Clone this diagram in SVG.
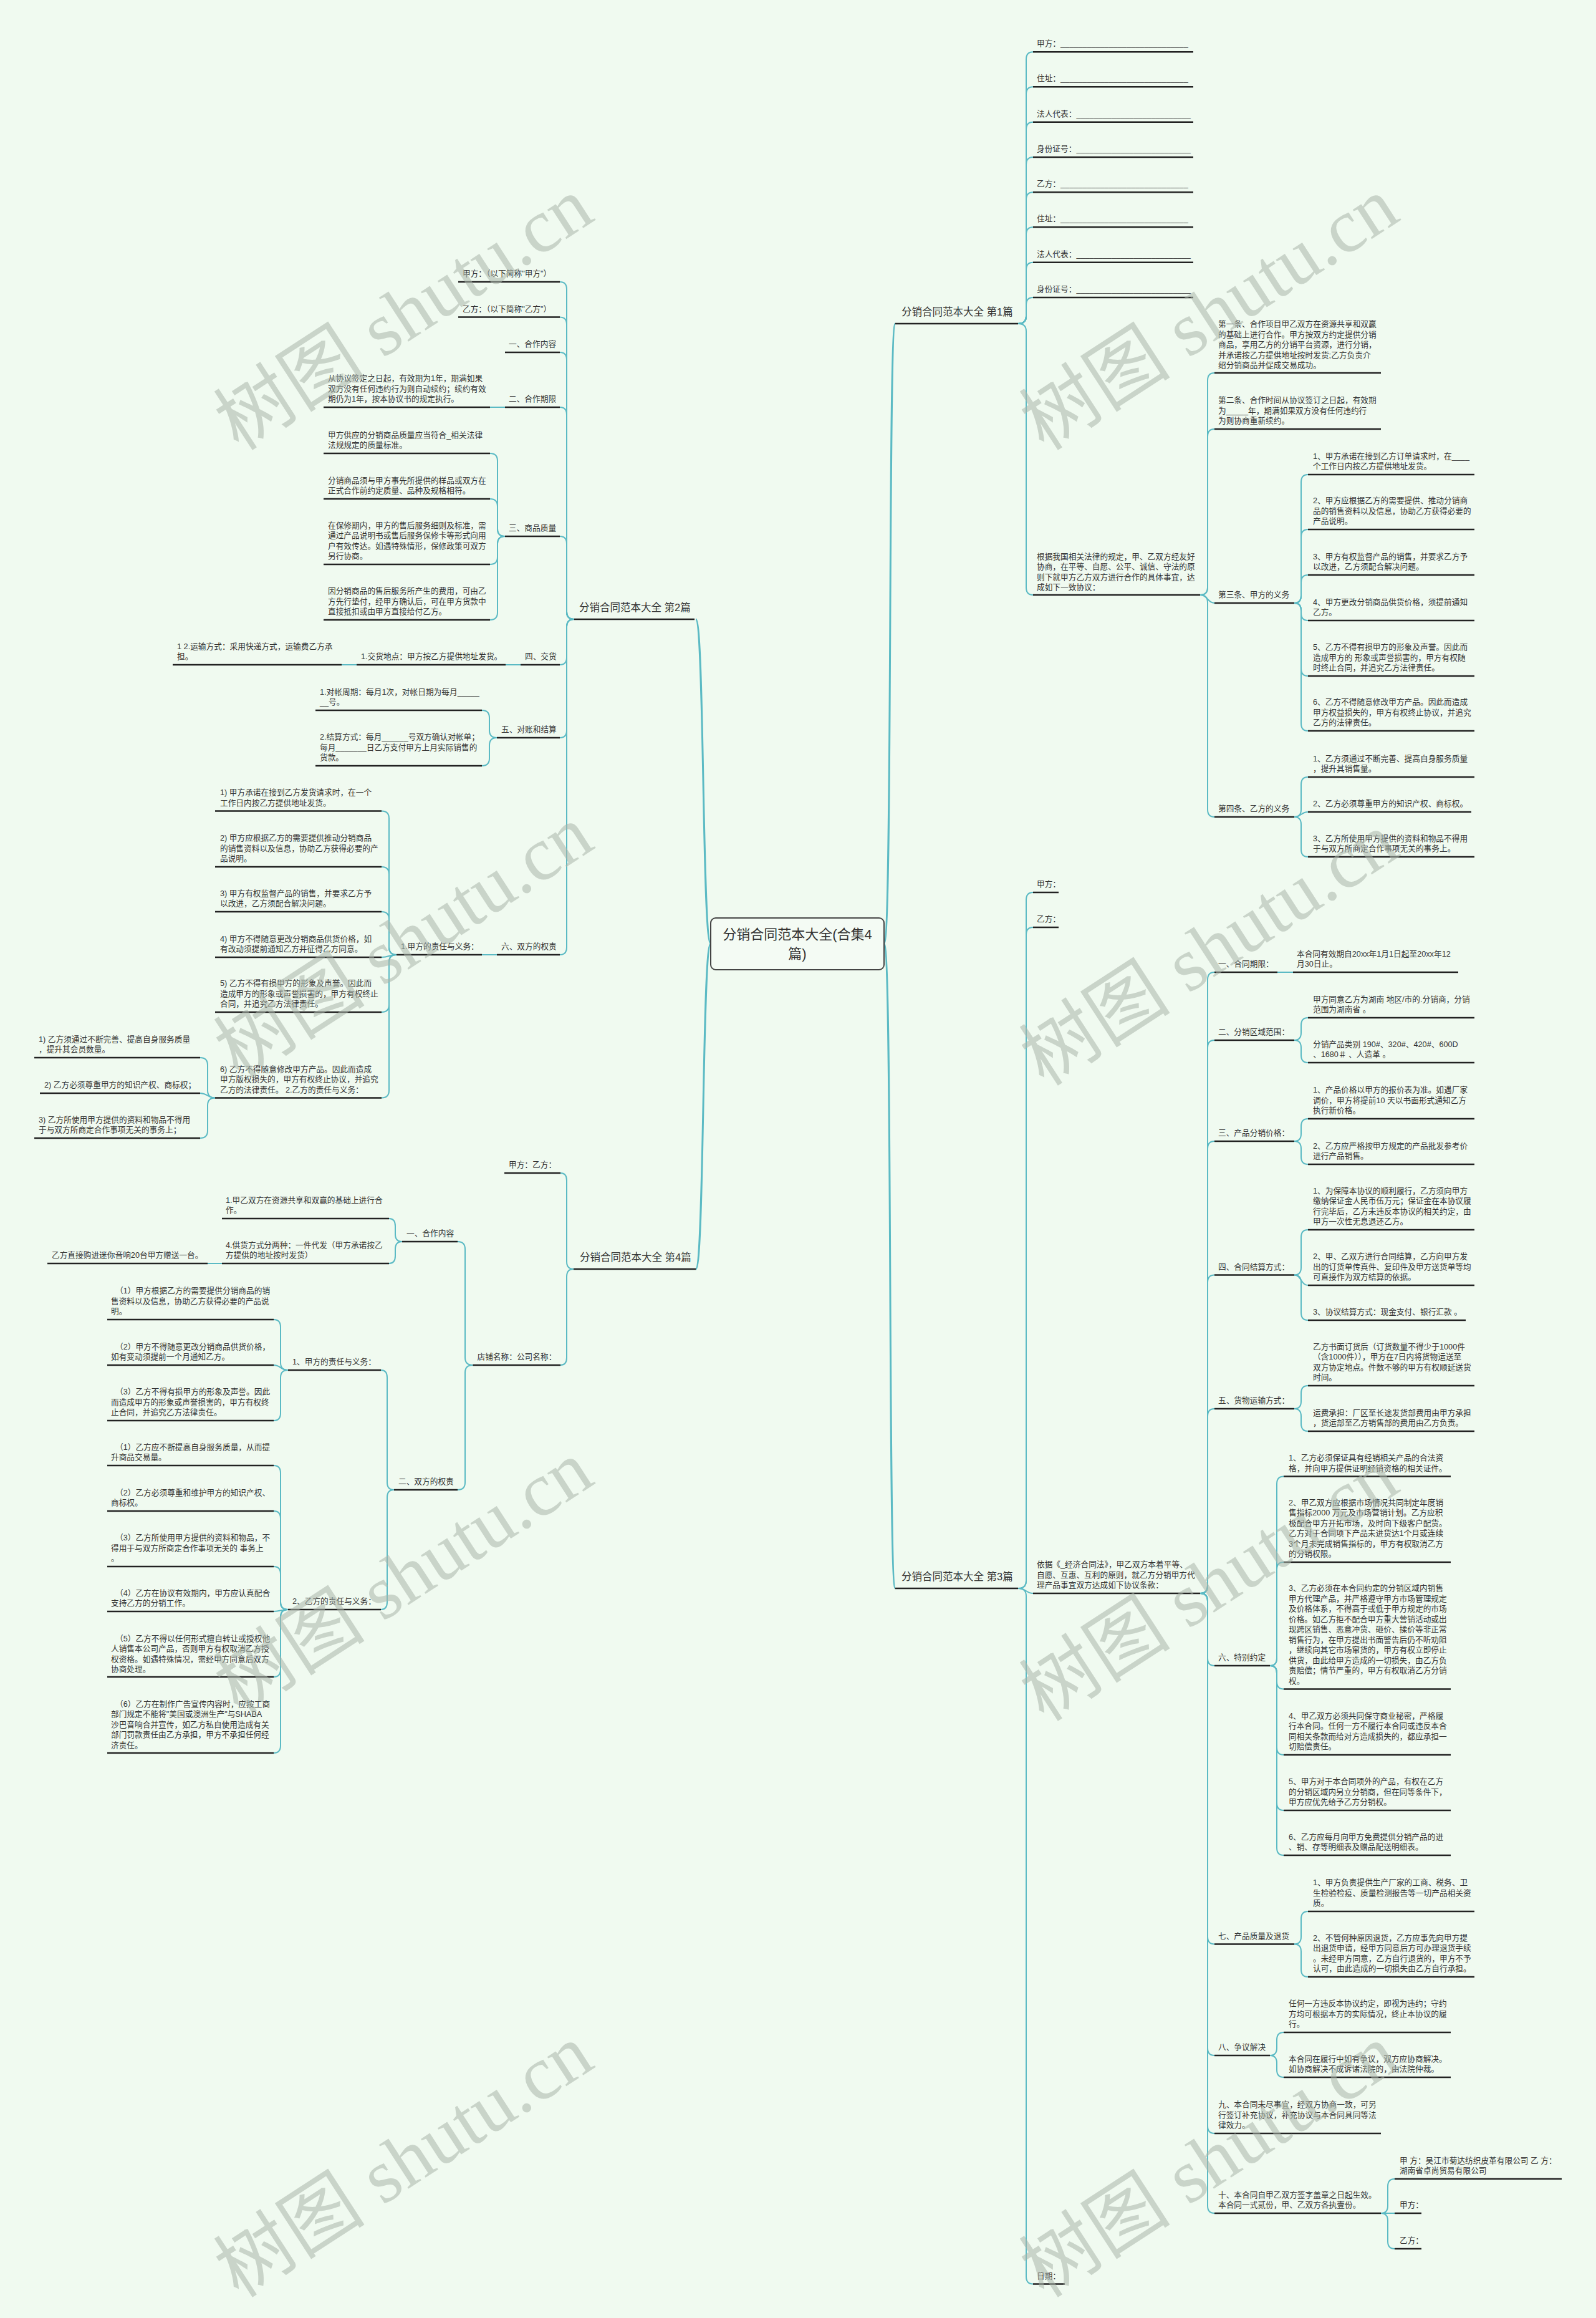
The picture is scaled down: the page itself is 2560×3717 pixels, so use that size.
<svg xmlns="http://www.w3.org/2000/svg" width="2560" height="3717" viewBox="0 0 2560 3717">
<style>
.t{font-family:"Liberation Sans","Noto Sans CJK SC",sans-serif;font-size:12.7px;fill:#333}
.b{font-family:"Liberation Sans","Noto Sans CJK SC",sans-serif;font-size:16.5px;fill:#333}
.c{font-family:"Liberation Sans","Noto Sans CJK SC",sans-serif;font-size:22px;fill:#333;text-anchor:middle}
.u{stroke:#222;stroke-width:2.5;fill:none}
.k path{fill:none;stroke:#5bbac4;stroke-width:2}
.k path.m{stroke-width:3}
.w{font-family:"Liberation Serif","Noto Sans CJK SC",serif;font-size:122px;fill:#aab4aa;fill-opacity:.55;text-anchor:middle}
</style>
<rect width="2560" height="3717" fill="#f0faf0"/>
<g id="connectors" class="k">
<path class="m" d="M1418,1513 C1432,1513 1424,519 1436,519"/>
<path class="m" d="M1418,1513 C1432,1513 1424,2547 1436,2547"/>
<path class="m" d="M1140,1513 C1126,1513 1130,993 1116,993"/>
<path class="m" d="M1140,1513 C1126,1513 1130,2035 1116,2035"/>
<path d="M921,993 Q909,993 909,981 L909,464 Q909,452 898,452"/>
<path d="M921,993 Q909,993 909,981 L909,520.5 Q909,508.5 898,508.5"/>
<path d="M921,993 Q909,993 909,981 L909,577 Q909,565 898,565"/>
<path d="M921,993 Q909,993 909,981 L909,665 Q909,653 898,653"/>
<path d="M921,993 Q909,993 909,981 L909,872 Q909,860 898,860"/>
<path d="M921,993 Q909,993 909,1005 L909,1054 Q909,1066 898,1066"/>
<path d="M921,993 Q909,993 909,1005 L909,1171 Q909,1183 898,1183"/>
<path d="M921,993 Q909,993 909,1005 L909,1519 Q909,1531 898,1531"/>
<path d="M810,653 L786,653"/>
<path d="M810,860 Q798,860 798,848 L798,739 Q798,727 786,727"/>
<path d="M810,860 Q798,860 798,848 L798,812 Q798,800 786,800"/>
<path d="M810,860 Q798,860 798,872 L798,893 Q798,905 786,905"/>
<path d="M810,860 Q798,860 798,872 L798,982 Q798,994 786,994"/>
<path d="M835,1066 L811,1066"/>
<path d="M572,1066 L548,1066"/>
<path d="M797,1183 Q785,1183 785,1171 L785,1151 Q785,1139 773,1139"/>
<path d="M797,1183 Q785,1183 785,1195 L785,1216 Q785,1228 773,1228"/>
<path d="M797,1531 L773,1531"/>
<path d="M636,1531 Q624,1531 624,1519 L624,1312.5 Q624,1300.5 612,1300.5"/>
<path d="M636,1531 Q624,1531 624,1519 L624,1402 Q624,1390 612,1390"/>
<path d="M636,1531 Q624,1531 624,1519 L624,1474 Q624,1462 612,1462"/>
<path d="M636,1531 C624,1531 624,1535 612,1535"/>
<path d="M636,1531 Q624,1531 624,1543 L624,1611 Q624,1623 612,1623"/>
<path d="M636,1531 Q624,1531 624,1543 L624,1748.5 Q624,1760.5 612,1760.5"/>
<path d="M345,1760.5 Q333,1760.5 333,1748.5 L333,1708 Q333,1696 321,1696"/>
<path d="M345,1760.5 C333,1760.5 333,1753 321,1753"/>
<path d="M345,1760.5 Q333,1760.5 333,1772.5 L333,1813 Q333,1825 321,1825"/>
<path d="M920,2035 Q909,2035 909,2023 L909,1893 Q909,1881 899,1881"/>
<path d="M920,2035 Q909,2035 909,2047 L909,2177 Q909,2189 899,2189"/>
<path d="M758.5,2189 Q746,2189 746,2177 L746,2003 Q746,1991 734,1991"/>
<path d="M758.5,2189 Q746,2189 746,2201 L746,2377 Q746,2389 734,2389"/>
<path d="M645,1991 Q634,1991 634,1979 L634,1966 Q634,1954 624,1954"/>
<path d="M645,1991 Q634,1991 634,2003 L634,2014 Q634,2026 624,2026"/>
<path d="M356,2026 L333,2026"/>
<path d="M632,2389 Q621,2389 621,2377 L621,2209 Q621,2197 611,2197"/>
<path d="M632,2389 Q621,2389 621,2401 L621,2569 Q621,2581 611,2581"/>
<path d="M462,2197 Q450,2197 450,2185 L450,2128 Q450,2116 439,2116"/>
<path d="M462,2197 C450,2197 450,2189 439,2189"/>
<path d="M462,2197 Q450,2197 450,2209 L450,2266 Q450,2278 439,2278"/>
<path d="M462,2581 Q450,2581 450,2569 L450,2362 Q450,2350 439,2350"/>
<path d="M462,2581 Q450,2581 450,2569 L450,2435 Q450,2423 439,2423"/>
<path d="M462,2581 Q450,2581 450,2569 L450,2524 Q450,2512 439,2512"/>
<path d="M462,2581 C450,2581 450,2584 439,2584"/>
<path d="M462,2581 Q450,2581 450,2593 L450,2677 Q450,2689 439,2689"/>
<path d="M462,2581 Q450,2581 450,2593 L450,2799 Q450,2811 439,2811"/>
<path d="M1633,519 Q1646,519 1646,507 L1646,95.3 Q1646,83.3 1657,83.3"/>
<path d="M1633,519 Q1646,519 1646,507 L1646,151.3 Q1646,139.3 1657,139.3"/>
<path d="M1633,519 Q1646,519 1646,507 L1646,207.7 Q1646,195.7 1657,195.7"/>
<path d="M1633,519 Q1646,519 1646,507 L1646,264 Q1646,252 1657,252"/>
<path d="M1633,519 Q1646,519 1646,507 L1646,320.3 Q1646,308.3 1657,308.3"/>
<path d="M1633,519 Q1646,519 1646,507 L1646,376.3 Q1646,364.3 1657,364.3"/>
<path d="M1633,519 Q1646,519 1646,507 L1646,432.7 Q1646,420.7 1657,420.7"/>
<path d="M1633,519 Q1646,519 1646,507 L1646,489 Q1646,477 1657,477"/>
<path d="M1633,519 Q1646,519 1646,531 L1646,942 Q1646,954 1657,954"/>
<path d="M1925,954 Q1937,954 1937,942 L1937,610 Q1937,598 1948,598"/>
<path d="M1925,954 Q1937,954 1937,942 L1937,700 Q1937,688 1948,688"/>
<path d="M1925,954 C1937,954 1937,967 1948,967"/>
<path d="M1925,954 Q1937,954 1937,966 L1937,1298 Q1937,1310 1948,1310"/>
<path d="M2076,967 Q2087,967 2087,955 L2087,773 Q2087,761 2098,761"/>
<path d="M2076,967 Q2087,967 2087,955 L2087,861 Q2087,849 2098,849"/>
<path d="M2076,967 Q2087,967 2087,955 L2087,934 Q2087,922 2098,922"/>
<path d="M2076,967 Q2087,967 2087,979 L2087,983 Q2087,995 2098,995"/>
<path d="M2076,967 Q2087,967 2087,979 L2087,1072 Q2087,1084 2098,1084"/>
<path d="M2076,967 Q2087,967 2087,979 L2087,1160 Q2087,1172 2098,1172"/>
<path d="M2076,1310 Q2087,1310 2087,1298 L2087,1258 Q2087,1246 2098,1246"/>
<path d="M2076,1310 C2087,1310 2087,1302 2098,1302"/>
<path d="M2076,1310 Q2087,1310 2087,1322 L2087,1362 Q2087,1374 2098,1374"/>
<path d="M1633,2547 Q1646,2547 1646,2535 L1646,1443 Q1646,1431 1657,1431"/>
<path d="M1633,2547 Q1646,2547 1646,2535 L1646,1499 Q1646,1487 1657,1487"/>
<path d="M1633,2547 C1646,2547 1646,2555 1657,2555"/>
<path d="M1633,2547 Q1646,2547 1646,2559 L1646,3650.5 Q1646,3662.5 1657,3662.5"/>
<path d="M1925,2555 Q1937,2555 1937,2543 L1937,1571 Q1937,1559 1948,1559"/>
<path d="M1925,2555 Q1937,2555 1937,2543 L1937,1680 Q1937,1668 1948,1668"/>
<path d="M1925,2555 Q1937,2555 1937,2543 L1937,1842 Q1937,1830 1948,1830"/>
<path d="M1925,2555 Q1937,2555 1937,2543 L1937,2056.5 Q1937,2044.5 1948,2044.5"/>
<path d="M1925,2555 Q1937,2555 1937,2543 L1937,2271 Q1937,2259 1948,2259"/>
<path d="M1925,2555 Q1937,2555 1937,2567 L1937,2659 Q1937,2671 1948,2671"/>
<path d="M1925,2555 Q1937,2555 1937,2567 L1937,3105.5 Q1937,3117.5 1948,3117.5"/>
<path d="M1925,2555 Q1937,2555 1937,2567 L1937,3284 Q1937,3296 1948,3296"/>
<path d="M1925,2555 Q1937,2555 1937,2567 L1937,3409 Q1937,3421 1948,3421"/>
<path d="M1925,2555 Q1937,2555 1937,2567 L1937,3537 Q1937,3549 1948,3549"/>
<path d="M2049,1559 L2074,1559"/>
<path d="M2076,1668 Q2087,1668 2087,1656 L2087,1644 Q2087,1632 2098,1632"/>
<path d="M2076,1668 Q2087,1668 2087,1680 L2087,1692 Q2087,1704 2098,1704"/>
<path d="M2076,1830 Q2087,1830 2087,1818 L2087,1806 Q2087,1794 2098,1794"/>
<path d="M2076,1830 Q2087,1830 2087,1842 L2087,1855 Q2087,1867 2098,1867"/>
<path d="M2076,2044.5 Q2087,2044.5 2087,2032.5 L2087,1984 Q2087,1972 2098,1972"/>
<path d="M2076,2044.5 C2087,2044.5 2087,2061 2098,2061"/>
<path d="M2076,2044.5 Q2087,2044.5 2087,2056.5 L2087,2105 Q2087,2117 2098,2117"/>
<path d="M2076,2259 Q2087,2259 2087,2247 L2087,2234 Q2087,2222 2098,2222"/>
<path d="M2076,2259 Q2087,2259 2087,2271 L2087,2283 Q2087,2295 2098,2295"/>
<path d="M2037,2671 Q2048,2671 2048,2659 L2048,2379.5 Q2048,2367.5 2059,2367.5"/>
<path d="M2037,2671 Q2048,2671 2048,2659 L2048,2517 Q2048,2505 2059,2505"/>
<path d="M2037,2671 Q2048,2671 2048,2683 L2048,2696.5 Q2048,2708.5 2059,2708.5"/>
<path d="M2037,2671 Q2048,2671 2048,2683 L2048,2802 Q2048,2814 2059,2814"/>
<path d="M2037,2671 Q2048,2671 2048,2683 L2048,2891 Q2048,2903 2059,2903"/>
<path d="M2037,2671 Q2048,2671 2048,2683 L2048,2963 Q2048,2975 2059,2975"/>
<path d="M2076,3117.5 Q2087,3117.5 2087,3105.5 L2087,3077 Q2087,3065 2098,3065"/>
<path d="M2076,3117.5 Q2087,3117.5 2087,3129.5 L2087,3158 Q2087,3170 2098,3170"/>
<path d="M2037,3296 Q2048,3296 2048,3284 L2048,3271 Q2048,3259 2059,3259"/>
<path d="M2037,3296 Q2048,3296 2048,3308 L2048,3319 Q2048,3331 2059,3331"/>
<path d="M2215,3549 Q2226,3549 2226,3537 L2226,3506 Q2226,3494 2237,3494"/>
<path d="M2215,3549 L2237,3549"/>
<path d="M2215,3549 Q2226,3549 2226,3561 L2226,3594 Q2226,3606 2237,3606"/>
</g>
<g id="center"><rect x="1140" y="1472" width="278" height="83" rx="8" fill="#f4fbf4" stroke="#444" stroke-width="2"/><text class="c"><tspan x="1279" y="1506">分销合同范本大全(合集4</tspan><tspan x="1279" y="1537">篇)</tspan></text></g>
<g id="b1"><path class="u" d="M1436 519H1633"/><text class="b" x="1446" y="506">分销合同范本大全 第1篇</text></g>
<g id="b2"><path class="u" d="M921 993H1114"/><text class="b" x="929" y="980">分销合同范本大全 第2篇</text></g>
<g id="b3"><path class="u" d="M1436 2547H1633"/><text class="b" x="1446" y="2534">分销合同范本大全 第3篇</text></g>
<g id="b4"><path class="u" d="M920 2035H1116"/><text class="b" x="930" y="2022">分销合同范本大全 第4篇</text></g>
<g id="n2_1"><path class="u" d="M735 452H898"/><text class="t" x="742" y="443">甲方：（以下简称"甲方"）</text></g>
<g id="n2_2"><path class="u" d="M735 508.5H898"/><text class="t" x="742" y="499.5">乙方：（以下简称"乙方"）</text></g>
<g id="n2_3"><path class="u" d="M810 565H898"/><text class="t" x="816" y="556">一、合作内容</text></g>
<g id="n2_4"><path class="u" d="M810 653H898"/><text class="t" x="816" y="644">二、合作期限</text></g>
<g id="n2_4_1"><path class="u" d="M519 653H786"/><text class="t"><tspan x="526" y="611">从协议签定之日起，有效期为1年，期满如果</tspan><tspan x="526" y="627.5">双方没有任何违约行为则自动续约；续约有效</tspan><tspan x="526" y="644">期仍为1年，按本协议书的规定执行。</tspan></text></g>
<g id="n2_5"><path class="u" d="M810 860H898"/><text class="t" x="816" y="851">三、商品质量</text></g>
<g id="n2_5_1"><path class="u" d="M519 727H786"/><text class="t"><tspan x="526" y="701.5">甲方供应的分销商品质量应当符合_相关法律</tspan><tspan x="526" y="718">法规规定的质量标准。</tspan></text></g>
<g id="n2_5_2"><path class="u" d="M519 800H786"/><text class="t"><tspan x="526" y="774.5">分销商品须与甲方事先所提供的样品或双方在</tspan><tspan x="526" y="791">正式合作前约定质量、品种及规格相符。</tspan></text></g>
<g id="n2_5_3"><path class="u" d="M519 905H786"/><text class="t"><tspan x="526" y="846.5">在保修期内，甲方的售后服务细则及标准，需</tspan><tspan x="526" y="863">通过产品说明书或售后服务保修卡等形式向用</tspan><tspan x="526" y="879.5">户有效传达。如遇特殊情形，保修政策可双方</tspan><tspan x="526" y="896">另行协商。</tspan></text></g>
<g id="n2_5_4"><path class="u" d="M519 994H786"/><text class="t"><tspan x="526" y="952">因分销商品的售后服务所产生的费用，可由乙</tspan><tspan x="526" y="968.5">方先行垫付，经甲方确认后，可在甲方货款中</tspan><tspan x="526" y="985">直接抵扣或由甲方直接给付乙方。</tspan></text></g>
<g id="n2_6"><path class="u" d="M835 1066H898"/><text class="t" x="842" y="1057">四、交货</text></g>
<g id="n2_6_1"><path class="u" d="M572 1066H811"/><text class="t" x="579" y="1057">1.交货地点：甲方按乙方提供地址发货。</text></g>
<g id="n2_6_1_1"><path class="u" d="M277 1066H548"/><text class="t"><tspan x="284" y="1040.5">1 2.运输方式：采用快递方式，运输费乙方承</tspan><tspan x="284" y="1057">担。</tspan></text></g>
<g id="n2_7"><path class="u" d="M797 1183H898"/><text class="t" x="804" y="1174">五、对账和结算</text></g>
<g id="n2_7_1"><path class="u" d="M506 1139H773"/><text class="t"><tspan x="513" y="1114">1.对帐周期：每月1次，对帐日期为每月_____</tspan><tspan x="513" y="1130">__号。</tspan></text></g>
<g id="n2_7_2"><path class="u" d="M506 1228H773"/><text class="t"><tspan x="513" y="1186">2.结算方式：每月______号双方确认对帐单；</tspan><tspan x="513" y="1202.5">每月_______日乙方支付甲方上月实际销售的</tspan><tspan x="513" y="1219">货款。</tspan></text></g>
<g id="n2_8"><path class="u" d="M797 1531H898"/><text class="t" x="804" y="1522">六、双方的权责</text></g>
<g id="n2_8_1"><path class="u" d="M636 1531H773"/><text class="t" x="643" y="1522">1.甲方的责任与义务：</text></g>
<g id="n2_8_1_1"><path class="u" d="M345 1300.5H612"/><text class="t"><tspan x="353" y="1275">1) 甲方承诺在接到乙方发货请求时，在一个</tspan><tspan x="353" y="1291.5">工作日内按乙方提供地址发货。</tspan></text></g>
<g id="n2_8_1_2"><path class="u" d="M345 1390H612"/><text class="t"><tspan x="353" y="1348">2) 甲方应根据乙方的需要提供推动分销商品</tspan><tspan x="353" y="1364.5">的销售资料以及信息，协助乙方获得必要的产</tspan><tspan x="353" y="1381">品说明。</tspan></text></g>
<g id="n2_8_1_3"><path class="u" d="M345 1462H612"/><text class="t"><tspan x="353" y="1436.5">3) 甲方有权监督产品的销售，并要求乙方予</tspan><tspan x="353" y="1453">以改进，乙方须配合解决问题。</tspan></text></g>
<g id="n2_8_1_4"><path class="u" d="M345 1535H612"/><text class="t"><tspan x="353" y="1509.5">4) 甲方不得随意更改分销商品供货价格，如</tspan><tspan x="353" y="1526">有改动须提前通知乙方并征得乙方同意。</tspan></text></g>
<g id="n2_8_1_5"><path class="u" d="M345 1623H612"/><text class="t"><tspan x="353" y="1581">5) 乙方不得有损甲方的形象及声誉。因此而</tspan><tspan x="353" y="1597.5">造成甲方的形象或声誉损害的，甲方有权终止</tspan><tspan x="353" y="1614">合同，并追究乙方法律责任。</tspan></text></g>
<g id="n2_8_1_6"><path class="u" d="M345 1760.5H612"/><text class="t"><tspan x="353" y="1718.5">6) 乙方不得随意修改甲方产品。因此而造成</tspan><tspan x="353" y="1735">甲方版权损失的，甲方有权终止协议，并追究</tspan><tspan x="353" y="1751.5">乙方的法律责任。 2.乙方的责任与义务：</tspan></text></g>
<g id="n2_8_1_6_1"><path class="u" d="M55 1696H321"/><text class="t"><tspan x="62" y="1670.5">1) 乙方须通过不断完善、提高自身服务质量</tspan><tspan x="62" y="1687">，提升其会员数量。</tspan></text></g>
<g id="n2_8_1_6_2"><path class="u" d="M64 1753H321"/><text class="t" x="71" y="1744">2) 乙方必须尊重甲方的知识产权、商标权；</text></g>
<g id="n2_8_1_6_3"><path class="u" d="M55 1825H321"/><text class="t"><tspan x="62" y="1799.5">3) 乙方所使用甲方提供的资料和物品不得用</tspan><tspan x="62" y="1816">于与双方所商定合作事项无关的事务上；</tspan></text></g>
<g id="n4_1"><path class="u" d="M809 1881H899"/><text class="t" x="816" y="1872">甲方：乙方：</text></g>
<g id="n4_2"><path class="u" d="M758.5 2189H899"/><text class="t" x="765.5" y="2180">店铺名称：公司名称：</text></g>
<g id="n4_2_1"><path class="u" d="M645 1991H734"/><text class="t" x="652" y="1982">一、合作内容</text></g>
<g id="n4_2_1_1"><path class="u" d="M356 1954H624"/><text class="t"><tspan x="362" y="1928.5">1.甲乙双方在资源共享和双赢的基础上进行合</tspan><tspan x="362" y="1945">作。</tspan></text></g>
<g id="n4_2_1_2"><path class="u" d="M356 2026H624"/><text class="t"><tspan x="362" y="2000.5">4.供货方式分两种：一件代发（甲方承诺按乙</tspan><tspan x="362" y="2017">方提供的地址按时发货）</tspan></text></g>
<g id="n4_2_1_2_1"><path class="u" d="M76 2026H333"/><text class="t" x="83" y="2017">乙方直接购进迷你音响20台甲方赠送一台。</text></g>
<g id="n4_2_2"><path class="u" d="M632 2389H734"/><text class="t" x="639" y="2380">二、双方的权责</text></g>
<g id="n4_2_2_1"><path class="u" d="M462 2197H611"/><text class="t" x="469" y="2188">1、甲方的责任与义务：</text></g>
<g id="n4_a1"><path class="u" d="M172 2116H439"/><text class="t"><tspan x="185" y="2074">（1）甲方根据乙方的需要提供分销商品的销</tspan><tspan x="178" y="2090.5">售资料以及信息，协助乙方获得必要的产品说</tspan><tspan x="178" y="2107">明。</tspan></text></g>
<g id="n4_a2"><path class="u" d="M172 2189H439"/><text class="t"><tspan x="185" y="2163.5">（2）甲方不得随意更改分销商品供货价格，</tspan><tspan x="178" y="2180">如有变动须提前一个月通知乙方。</tspan></text></g>
<g id="n4_a3"><path class="u" d="M172 2278H439"/><text class="t"><tspan x="185" y="2236">（3）乙方不得有损甲方的形象及声誉。因此</tspan><tspan x="178" y="2252.5">而造成甲方的形象或声誉损害的，甲方有权终</tspan><tspan x="178" y="2269">止合同，并追究乙方法律责任。</tspan></text></g>
<g id="n4_2_2_2"><path class="u" d="M462 2581H611"/><text class="t" x="469" y="2572">2、乙方的责任与义务：</text></g>
<g id="n4_b1"><path class="u" d="M172 2350H439"/><text class="t"><tspan x="185" y="2324.5">（1）乙方应不断提高自身服务质量，从而提</tspan><tspan x="178" y="2341">升商品交易量。</tspan></text></g>
<g id="n4_b2"><path class="u" d="M172 2423H439"/><text class="t"><tspan x="185" y="2397.5">（2）乙方必须尊重和维护甲方的知识产权、</tspan><tspan x="178" y="2414">商标权。</tspan></text></g>
<g id="n4_b3"><path class="u" d="M172 2512H439"/><text class="t"><tspan x="185" y="2470">（3）乙方所使用甲方提供的资料和物品，不</tspan><tspan x="178" y="2486.5">得用于与双方所商定合作事项无关的 事务上</tspan><tspan x="178" y="2503">。</tspan></text></g>
<g id="n4_b4"><path class="u" d="M172 2584H439"/><text class="t"><tspan x="185" y="2558.5">（4）乙方在协议有效期内，甲方应认真配合</tspan><tspan x="178" y="2575">支持乙方的分销工作。</tspan></text></g>
<g id="n4_b5"><path class="u" d="M172 2689H439"/><text class="t"><tspan x="185" y="2631.5">（5）乙方不得以任何形式擅自转让或授权他</tspan><tspan x="178" y="2648">人销售本公司产品，否则甲方有权取消乙方授</tspan><tspan x="178" y="2664.5">权资格。如遇特殊情况，需经甲方同意后双方</tspan><tspan x="178" y="2681">协商处理。</tspan></text></g>
<g id="n4_b6"><path class="u" d="M172 2811H439"/><text class="t"><tspan x="185" y="2736.5">（6）乙方在制作广告宣传内容时，应按工商</tspan><tspan x="178" y="2753">部门规定不能将"美国或澳洲生产"与SHABA</tspan><tspan x="178" y="2769.5">沙巴音响合并宣传，如乙方私自使用造成有关</tspan><tspan x="178" y="2786">部门罚款责任由乙方承担，甲方不承担任何经</tspan><tspan x="178" y="2802.5">济责任。</tspan></text></g>
<g id="n1_1"><path class="u" d="M1657 83.3H1914"/><text class="t" x="1663" y="74.3">甲方：_____________________________</text></g>
<g id="n1_2"><path class="u" d="M1657 139.3H1914"/><text class="t" x="1663" y="130.3">住址：_____________________________</text></g>
<g id="n1_3"><path class="u" d="M1657 195.7H1914"/><text class="t" x="1663" y="186.7">法人代表：__________________________</text></g>
<g id="n1_4"><path class="u" d="M1657 252H1914"/><text class="t" x="1663" y="243">身份证号：__________________________</text></g>
<g id="n1_5"><path class="u" d="M1657 308.3H1914"/><text class="t" x="1663" y="299.3">乙方：_____________________________</text></g>
<g id="n1_6"><path class="u" d="M1657 364.3H1914"/><text class="t" x="1663" y="355.3">住址：_____________________________</text></g>
<g id="n1_7"><path class="u" d="M1657 420.7H1914"/><text class="t" x="1663" y="411.7">法人代表：__________________________</text></g>
<g id="n1_8"><path class="u" d="M1657 477H1914"/><text class="t" x="1663" y="468">身份证号：__________________________</text></g>
<g id="n1_9"><path class="u" d="M1657 954H1925"/><text class="t"><tspan x="1663" y="896.5">根据我国相关法律的规定，甲、乙双方经友好</tspan><tspan x="1663" y="913">协商，在平等、自愿、公平、诚信、守法的原</tspan><tspan x="1663" y="929.5">则下就甲方乙方双方进行合作的具体事宜，达</tspan><tspan x="1663" y="946">成如下一致协议：</tspan></text></g>
<g id="n1_9_1"><path class="u" d="M1948 598H2215"/><text class="t"><tspan x="1954" y="524">第一条、合作项目甲乙双方在资源共享和双赢</tspan><tspan x="1954" y="540.5">的基础上进行合作。甲方按双方约定提供分销</tspan><tspan x="1954" y="557">商品，享用乙方的分销平台资源，进行分销，</tspan><tspan x="1954" y="573.5">并承诺按乙方提供地址按时发货;乙方负责介</tspan><tspan x="1954" y="590">绍分销商品并促成交易成功。</tspan></text></g>
<g id="n1_9_2"><path class="u" d="M1948 688H2215"/><text class="t"><tspan x="1954" y="646">第二条、合作时间从协议签订之日起，有效期</tspan><tspan x="1954" y="662.5">为_____年，期满如果双方没有任何违约行</tspan><tspan x="1954" y="679">为则协商重新续约。</tspan></text></g>
<g id="n1_9_3"><path class="u" d="M1948 967H2076"/><text class="t" x="1954" y="958">第三条、甲方的义务</text></g>
<g id="n1_9_3_1"><path class="u" d="M2098 761H2365"/><text class="t"><tspan x="2106" y="735.5">1、甲方承诺在接到乙方订单请求时，在____</tspan><tspan x="2106" y="752">个工作日内按乙方提供地址发货。</tspan></text></g>
<g id="n1_9_3_2"><path class="u" d="M2098 849H2365"/><text class="t"><tspan x="2106" y="807">2、甲方应根据乙方的需要提供、推动分销商</tspan><tspan x="2106" y="823.5">品的销售资料以及信息，协助乙方获得必要的</tspan><tspan x="2106" y="840">产品说明。</tspan></text></g>
<g id="n1_9_3_3"><path class="u" d="M2098 922H2365"/><text class="t"><tspan x="2106" y="896.5">3、甲方有权监督产品的销售，并要求乙方予</tspan><tspan x="2106" y="913">以改进，乙方须配合解决问题。</tspan></text></g>
<g id="n1_9_3_4"><path class="u" d="M2098 995H2365"/><text class="t"><tspan x="2106" y="969.5">4、甲方更改分销商品供货价格，须提前通知</tspan><tspan x="2106" y="986">乙方。</tspan></text></g>
<g id="n1_9_3_5"><path class="u" d="M2098 1084H2365"/><text class="t"><tspan x="2106" y="1042">5、乙方不得有损甲方的形象及声誉。因此而</tspan><tspan x="2106" y="1058.5">造成甲方的 形象或声誉损害的，甲方有权随</tspan><tspan x="2106" y="1075">时终止合同，并追究乙方法律责任。</tspan></text></g>
<g id="n1_9_3_6"><path class="u" d="M2098 1172H2365"/><text class="t"><tspan x="2106" y="1130">6、乙方不得随意修改甲方产品。因此而造成</tspan><tspan x="2106" y="1146.5">甲方权益损失的，甲方有权终止协议，并追究</tspan><tspan x="2106" y="1163">乙方的法律责任。</tspan></text></g>
<g id="n1_9_4"><path class="u" d="M1948 1310H2076"/><text class="t" x="1954" y="1301">第四条、乙方的义务</text></g>
<g id="n1_9_4_1"><path class="u" d="M2098 1246H2365"/><text class="t"><tspan x="2106" y="1220.5">1、乙方须通过不断完善、提高自身服务质量</tspan><tspan x="2106" y="1237">，提升其销售量。</tspan></text></g>
<g id="n1_9_4_2"><path class="u" d="M2098 1302H2360"/><text class="t" x="2106" y="1293">2、乙方必须尊重甲方的知识产权、商标权。</text></g>
<g id="n1_9_4_3"><path class="u" d="M2098 1374H2365"/><text class="t"><tspan x="2106" y="1348.5">3、乙方所使用甲方提供的资料和物品不得用</tspan><tspan x="2106" y="1365">于与双方所商定合作事项无关的事务上。</tspan></text></g>
<g id="n3_1"><path class="u" d="M1657 1431H1698"/><text class="t" x="1663" y="1422">甲方：</text></g>
<g id="n3_2"><path class="u" d="M1657 1487H1698"/><text class="t" x="1663" y="1478">乙方：</text></g>
<g id="n3_3"><path class="u" d="M1657 2555H1925"/><text class="t"><tspan x="1663" y="2513">依据《_经济合同法》，甲乙双方本着平等、</tspan><tspan x="1663" y="2529.5">自愿、互惠、互利的原则，就乙方分销甲方代</tspan><tspan x="1663" y="2546">理产品事宜双方达成如下协议条款：</tspan></text></g>
<g id="n3_4"><path class="u" d="M1657 3662.5H1708"/><text class="t" x="1663" y="3653.5">日期：</text></g>
<g id="n3_3_1"><path class="u" d="M1948 1559H2049"/><text class="t" x="1954" y="1550">一、合同期限：</text></g>
<g id="n3_3_1_1"><path class="u" d="M2074 1559H2339"/><text class="t"><tspan x="2080" y="1533.5">本合同有效期自20xx年1月1日起至20xx年12</tspan><tspan x="2080" y="1550">月30日止。</tspan></text></g>
<g id="n3_3_2"><path class="u" d="M1948 1668H2076"/><text class="t" x="1954" y="1659">二、分销区域范围：</text></g>
<g id="n3_3_2_1"><path class="u" d="M2098 1632H2365"/><text class="t"><tspan x="2106" y="1606.5">甲方同意乙方为湖南 地区/市的.分销商，分销</tspan><tspan x="2106" y="1623">范围为湖南省 。</tspan></text></g>
<g id="n3_3_2_2"><path class="u" d="M2098 1704H2365"/><text class="t"><tspan x="2106" y="1678.5">分销产品类别 190#、320#、420#、600D</tspan><tspan x="2106" y="1695">、1680＃ 、人造革 。</tspan></text></g>
<g id="n3_3_3"><path class="u" d="M1948 1830H2076"/><text class="t" x="1954" y="1821">三、产品分销价格：</text></g>
<g id="n3_3_3_1"><path class="u" d="M2098 1794H2365"/><text class="t"><tspan x="2106" y="1752">1、产品价格以甲方的报价表为准。如遇厂家</tspan><tspan x="2106" y="1768.5">调价，甲方将提前10 天以书面形式通知乙方</tspan><tspan x="2106" y="1785">执行新价格。</tspan></text></g>
<g id="n3_3_3_2"><path class="u" d="M2098 1867H2365"/><text class="t"><tspan x="2106" y="1841.5">2、乙方应严格按甲方规定的产品批发参考价</tspan><tspan x="2106" y="1858">进行产品销售。</tspan></text></g>
<g id="n3_3_4"><path class="u" d="M1948 2044.5H2076"/><text class="t" x="1954" y="2035.5">四、合同结算方式：</text></g>
<g id="n3_3_4_1"><path class="u" d="M2098 1972H2365"/><text class="t"><tspan x="2106" y="1913.5">1、为保障本协议的顺利履行，乙方须向甲方</tspan><tspan x="2106" y="1930">缴纳保证金人民币伍万元；保证金在本协议履</tspan><tspan x="2106" y="1946.5">行完毕后，乙方未违反本协议的相关约定，由</tspan><tspan x="2106" y="1963">甲方一次性无息退还乙方。</tspan></text></g>
<g id="n3_3_4_2"><path class="u" d="M2098 2061H2365"/><text class="t"><tspan x="2106" y="2019">2、甲、乙双方进行合同结算，乙方向甲方发</tspan><tspan x="2106" y="2035.5">出的订货单传真件、复印件及甲方送货单等均</tspan><tspan x="2106" y="2052">可直接作为双方结算的依据。</tspan></text></g>
<g id="n3_3_4_3"><path class="u" d="M2098 2117H2351"/><text class="t" x="2106" y="2108">3、协议结算方式：现金支付、银行汇款 。</text></g>
<g id="n3_3_5"><path class="u" d="M1948 2259H2076"/><text class="t" x="1954" y="2250">五、货物运输方式：</text></g>
<g id="n3_3_5_1"><path class="u" d="M2098 2222H2365"/><text class="t"><tspan x="2106" y="2163.5">乙方书面订货后（订货数量不得少于1000件</tspan><tspan x="2106" y="2180">（含1000件）），甲方在7日内将货物运送至</tspan><tspan x="2106" y="2196.5">双方协定地点。件数不够的甲方有权顺延送货</tspan><tspan x="2106" y="2213">时间。</tspan></text></g>
<g id="n3_3_5_2"><path class="u" d="M2098 2295H2365"/><text class="t"><tspan x="2106" y="2269.5">运费承担：厂区至长途发货部费用由甲方承担</tspan><tspan x="2106" y="2286">，货运部至乙方销售部的费用由乙方负责。</tspan></text></g>
<g id="n3_3_6"><path class="u" d="M1948 2671H2037"/><text class="t" x="1954" y="2662">六、特别约定</text></g>
<g id="n3_3_6_1"><path class="u" d="M2059 2367.5H2327"/><text class="t"><tspan x="2067" y="2342">1、乙方必须保证具有经销相关产品的合法资</tspan><tspan x="2067" y="2358.5">格，并向甲方提供证明经销资格的相关证件。</tspan></text></g>
<g id="n3_3_6_2"><path class="u" d="M2059 2505H2327"/><text class="t"><tspan x="2067" y="2413.5">2、甲乙双方应根据市场情况共同制定年度销</tspan><tspan x="2067" y="2430">售指标2000 万元及市场营销计划。乙方应积</tspan><tspan x="2067" y="2446.5">极配合甲方开拓市场，及时向下级客户配货。</tspan><tspan x="2067" y="2463">乙方对于合同项下产品未进货达1个月或连续</tspan><tspan x="2067" y="2479.5">3个月未完成销售指标的，甲方有权取消乙方</tspan><tspan x="2067" y="2496">的分销权限。</tspan></text></g>
<g id="n3_3_6_3"><path class="u" d="M2059 2708.5H2327"/><text class="t"><tspan x="2067" y="2551">3、乙方必须在本合同约定的分销区域内销售</tspan><tspan x="2067" y="2567.5">甲方代理产品，并严格遵守甲方市场管理规定</tspan><tspan x="2067" y="2584">及价格体系，不得高于或低于甲方规定的市场</tspan><tspan x="2067" y="2600.5">价格。如乙方拒不配合甲方重大营销活动或出</tspan><tspan x="2067" y="2617">现跨区销售、恶意冲货、砸价、揉价等非正常</tspan><tspan x="2067" y="2633.5">销售行为，在甲方提出书面警告后仍不听劝阻</tspan><tspan x="2067" y="2650">，继续向其它市场窜货的，甲方有权立即停止</tspan><tspan x="2067" y="2666.5">供货，由此给甲方造成的一切损失，由乙方负</tspan><tspan x="2067" y="2683">责赔偿；情节严重的，甲方有权取消乙方分销</tspan><tspan x="2067" y="2699.5">权。</tspan></text></g>
<g id="n3_3_6_4"><path class="u" d="M2059 2814H2327"/><text class="t"><tspan x="2067" y="2755.5">4、甲乙双方必须共同保守商业秘密，严格履</tspan><tspan x="2067" y="2772">行本合同。任何一方不履行本合同或违反本合</tspan><tspan x="2067" y="2788.5">同相关条款而给对方造成损失的，都应承担一</tspan><tspan x="2067" y="2805">切赔偿责任。</tspan></text></g>
<g id="n3_3_6_5"><path class="u" d="M2059 2903H2327"/><text class="t"><tspan x="2067" y="2861">5、甲方对于本合同项外的产品，有权在乙方</tspan><tspan x="2067" y="2877.5">的分销区域内另立分销商，但在同等条件下，</tspan><tspan x="2067" y="2894">甲方应优先给予乙方分销权。</tspan></text></g>
<g id="n3_3_6_6"><path class="u" d="M2059 2975H2327"/><text class="t"><tspan x="2067" y="2949.5">6、乙方应每月向甲方免费提供分销产品的进</tspan><tspan x="2067" y="2966">、销、存等明细表及赠品配送明细表。</tspan></text></g>
<g id="n3_3_7"><path class="u" d="M1948 3117.5H2076"/><text class="t" x="1954" y="3108.5">七、产品质量及退货</text></g>
<g id="n3_3_7_1"><path class="u" d="M2098 3065H2365"/><text class="t"><tspan x="2106" y="3023">1、甲方负责提供生产厂家的工商、税务、卫</tspan><tspan x="2106" y="3039.5">生检验检疫、质量检测报告等一切产品相关资</tspan><tspan x="2106" y="3056">质。</tspan></text></g>
<g id="n3_3_7_2"><path class="u" d="M2098 3170H2365"/><text class="t"><tspan x="2106" y="3111.5">2、不管何种原因退货，乙方应事先向甲方提</tspan><tspan x="2106" y="3128">出退货申请，经甲方同意后方可办理退货手续</tspan><tspan x="2106" y="3144.5">。未经甲方同意，乙方自行退货的，甲方不予</tspan><tspan x="2106" y="3161">认可，由此造成的一切损失由乙方自行承担。</tspan></text></g>
<g id="n3_3_8"><path class="u" d="M1948 3296H2037"/><text class="t" x="1954" y="3287">八、争议解决</text></g>
<g id="n3_3_8_1"><path class="u" d="M2059 3259H2327"/><text class="t"><tspan x="2067" y="3217">任何一方违反本协议约定，即视为违约；守约</tspan><tspan x="2067" y="3233.5">方均可根据本方的实际情况，终止本协议的履</tspan><tspan x="2067" y="3250">行。</tspan></text></g>
<g id="n3_3_8_2"><path class="u" d="M2059 3331H2327"/><text class="t"><tspan x="2067" y="3305.5">本合同在履行中如有争议，双方应协商解决。</tspan><tspan x="2067" y="3322">如协商解决不成诉诸法院的，由法院仲裁。</tspan></text></g>
<g id="n3_3_9"><path class="u" d="M1948 3421H2215"/><text class="t"><tspan x="1954" y="3379">九、本合同未尽事宜，经双方协商一致，可另</tspan><tspan x="1954" y="3395.5">行签订补充协议，补充协议与本合同具同等法</tspan><tspan x="1954" y="3412">律效力。</tspan></text></g>
<g id="n3_3_10"><path class="u" d="M1948 3549H2215"/><text class="t"><tspan x="1954" y="3523.5">十、本合同自甲乙双方签字盖章之日起生效。</tspan><tspan x="1954" y="3540">本合同一式贰份，甲、乙双方各执壹份。</tspan></text></g>
<g id="n3_3_10_1"><path class="u" d="M2237 3494H2505"/><text class="t"><tspan x="2245" y="3468.5">甲 方：吴江市菊达纺织皮革有限公司 乙 方：</tspan><tspan x="2245" y="3485">湖南省卓尚贸易有限公司</tspan></text></g>
<g id="n3_3_10_2"><path class="u" d="M2237 3549H2280"/><text class="t" x="2245" y="3540">甲方：</text></g>
<g id="n3_3_10_3"><path class="u" d="M2237 3606H2280"/><text class="t" x="2245" y="3597">乙方：</text></g>
<g id="watermarks">
<text class="w" transform="translate(670,538) rotate(-33)">树图 shutu.cn</text>
<text class="w" transform="translate(1962,538) rotate(-33)">树图 shutu.cn</text>
<text class="w" transform="translate(670,1545) rotate(-33)">树图 shutu.cn</text>
<text class="w" transform="translate(1962,1557) rotate(-33)">树图 shutu.cn</text>
<text class="w" transform="translate(670,2564) rotate(-33)">树图 shutu.cn</text>
<text class="w" transform="translate(1962,2576) rotate(-33)">树图 shutu.cn</text>
<text class="w" transform="translate(670,3500) rotate(-33)">树图 shutu.cn</text>
<text class="w" transform="translate(1962,3500) rotate(-33)">树图 shutu.cn</text>
</g>
</svg>
